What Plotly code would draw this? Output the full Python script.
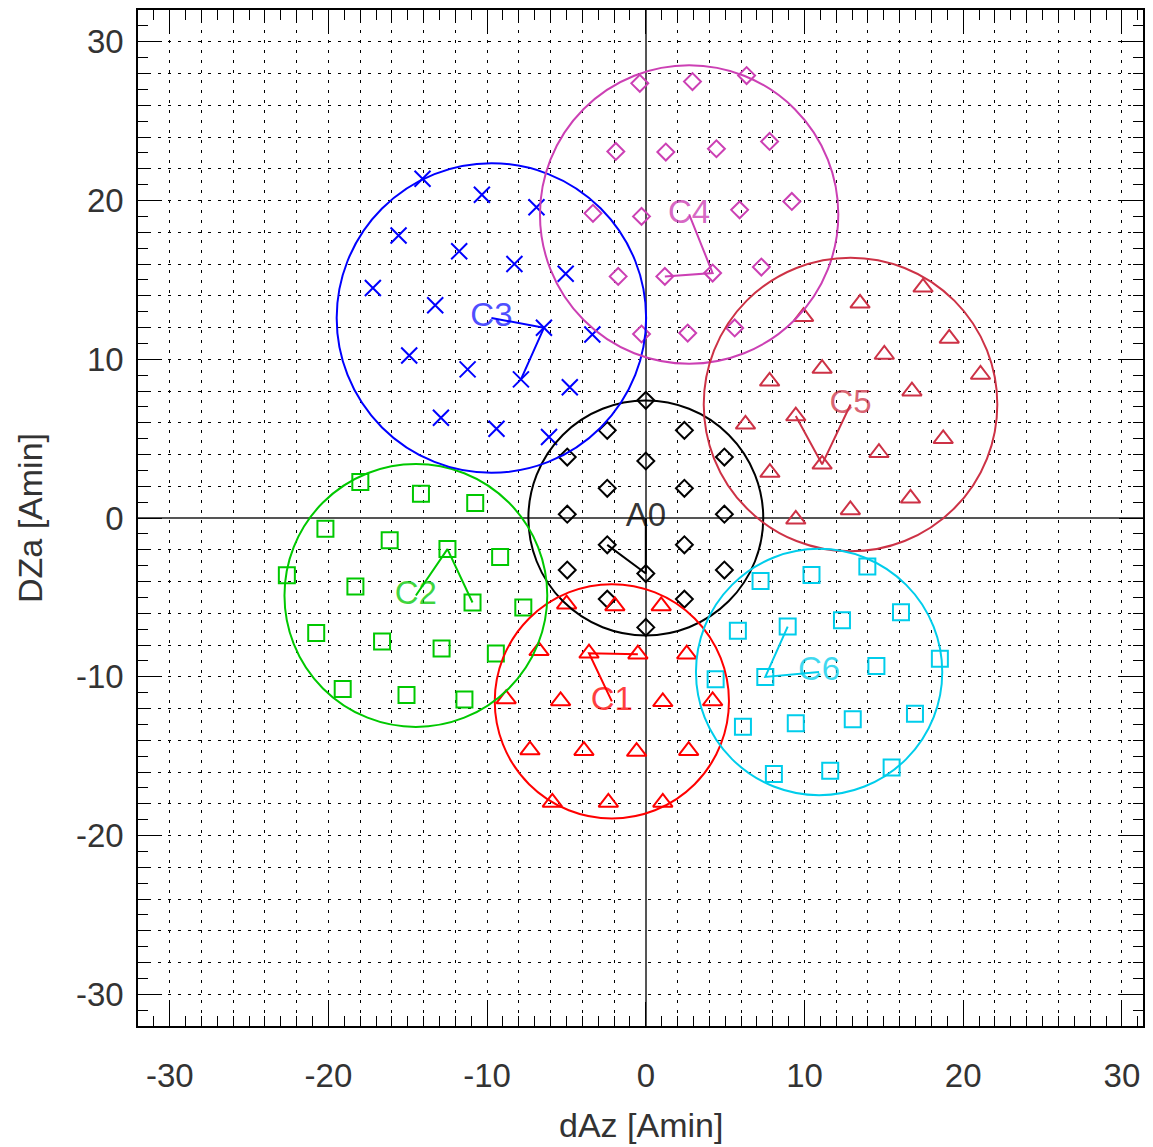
import plotly.graph_objects as go

# ---------------- data ----------------
A0_X = [0.0, -2.43, 2.43, -4.95, 0.0, 4.95, -2.43, 2.43, -4.95, 4.95, -2.43, 2.43, -4.95, 0.0, 4.95, -2.43, 2.43, 0.0]
A0_Y = [7.41, 5.52, 5.52, 3.84, 3.59, 3.84, 1.87, 1.87, 0.24, 0.24, -1.69, -1.69, -3.28, -3.50, -3.28, -5.11, -5.11, -6.89]

C1_X = [-4.99, -1.95, 0.97, -6.73, -3.58, -0.50, 2.58, -8.80, -5.37, 1.07, 4.21, -7.30, -3.90, -0.58, 2.70, -5.89, -2.36, 1.07]
C1_Y = [-5.43, -5.54, -5.54, -8.37, -8.52, -8.58, -8.58, -11.40, -11.52, -11.58, -11.52, -14.62, -14.66, -14.71, -14.66, -17.92, -17.92, -17.92]

C2_X = [-17.99, -14.17, -10.75, -20.19, -16.14, -12.50, -9.18, -22.62, -18.30, -10.92, -7.72, -20.77, -16.62, -12.87, -9.45, -19.10, -15.08, -11.43]
C2_Y = [2.27, 1.53, 0.95, -0.67, -1.40, -1.96, -2.45, -3.60, -4.32, -5.32, -5.64, -7.25, -7.78, -8.22, -8.53, -10.77, -11.15, -11.44]

C3_X = [-14.07, -10.33, -6.89, -15.58, -11.76, -8.28, -5.05, -17.20, -13.27, -6.42, -3.37, -14.91, -11.23, -7.87, -4.79, -12.91, -9.41, -6.10]
C3_Y = [21.37, 20.36, 19.58, 17.80, 16.80, 16.00, 15.39, 14.49, 13.40, 11.98, 11.56, 10.24, 9.36, 8.73, 8.24, 6.32, 5.62, 5.10]

C4_X = [-0.38, 2.94, 6.35, -1.89, 1.26, 4.45, 7.80, -3.33, -0.27, 5.91, 9.20, -1.74, 1.20, 4.21, 7.28, -0.27, 2.64, 5.60]
C4_Y = [27.38, 27.49, 27.87, 23.09, 23.05, 23.26, 23.72, 19.19, 19.00, 19.41, 19.94, 15.22, 15.22, 15.43, 15.81, 11.59, 11.65, 11.97]

C5_X = [17.47, 13.50, 9.94, 19.12, 15.03, 11.11, 7.80, 21.09, 16.77, 9.45, 6.28, 18.74, 14.69, 11.11, 7.82, 16.68, 12.89, 9.45]
C5_Y = [14.53, 13.52, 12.68, 11.31, 10.30, 9.41, 8.61, 9.04, 7.99, 6.42, 5.90, 4.99, 4.11, 3.38, 2.86, 1.24, 0.51, -0.08]

C6_X = [7.23, 10.44, 13.96, 5.80, 8.94, 12.36, 16.08, 4.40, 7.53, 14.53, 18.53, 6.12, 9.45, 13.04, 16.96, 8.07, 11.62, 15.49]
C6_Y = [-3.97, -3.59, -3.06, -7.11, -6.84, -6.44, -5.94, -10.15, -10.01, -9.33, -8.87, -13.15, -12.93, -12.68, -12.33, -16.13, -15.92, -15.71]

LABELS   = ["A0", "C1", "C2", "C3", "C4", "C5", "C6"]
CENTER_X = [0.0, -2.14, -14.49, -9.73, 2.73, 12.90, 10.92]
CENTER_Y = [0.0, -11.55, -4.88, 12.60, 19.12, 7.15, -9.70]
RADIUS   = [7.40, 7.38, 8.28, 9.75, 9.40, 9.25, 7.76]
# indices of the two points joined to each centre: centre -> first -> second
LINK_FIRST  = [13, 4, 5, 9, 13, 13, 8]
LINK_SECOND = [10, 5, 9, 13, 12, 9, 4]

TICK_VALUES = [-30, -20, -10, 0, 10, 20, 30]
TICK_LABELS = ["-30", "-20", "-10", "0", "10", "20", "30"]
X_TITLE = "dAz [Amin]"
Y_TITLE = "DZa [Amin]"

# ---------------- styles ----------------
POINTS_X = [A0_X, C1_X, C2_X, C3_X, C4_X, C5_X, C6_X]
POINTS_Y = [A0_Y, C1_Y, C2_Y, C3_Y, C4_Y, C5_Y, C6_Y]
COLORS = ["#000000", "#FF0000", "#00C800", "#0000FF", "#CC40B4", "#CD3246", "#00CDEB"]
TEXT_COLORS = ["rgba(0,0,0,0.8)", "rgba(255,0,0,0.75)", "rgba(0,200,0,0.75)",
               "rgba(0,0,255,0.7)", "rgba(204,64,180,0.8)", "rgba(205,50,70,0.75)",
               "rgba(0,205,235,0.75)"]
SYMBOLS = ["diamond-open", "triangle-up-open", "square-open", "x-thin-open",
           "diamond-open", "triangle-up-open", "square-open"]
SIZES = [13, 17, 16, 16, 13, 17, 16]

FONT = "Liberation Sans, Arial, Helvetica, sans-serif"

fig = go.Figure()
shapes = []
for i, name in enumerate(LABELS):
    col = COLORS[i]
    cx, cy, r = CENTER_X[i], CENTER_Y[i], RADIUS[i]
    shapes.append(dict(type="circle", xref="x", yref="y",
                       x0=cx - r, x1=cx + r, y0=cy - r, y1=cy + r,
                       line=dict(color=col, width=2), layer="above"))
    px, py = POINTS_X[i], POINTS_Y[i]
    fig.add_trace(go.Scatter(
        x=px, y=py, mode="markers", showlegend=False, hoverinfo="skip",
        marker=dict(symbol=SYMBOLS[i], size=SIZES[i], color=col,
                    line=dict(color=col, width=2))))
    a, b = LINK_FIRST[i], LINK_SECOND[i]
    fig.add_trace(go.Scatter(
        x=[cx, px[a], px[b]], y=[cy, py[a], py[b]], mode="lines",
        showlegend=False, hoverinfo="skip", line=dict(color=col, width=2)))
    fig.add_trace(go.Scatter(
        x=[cx], y=[cy], mode="text", text=[name], textposition="middle center",
        showlegend=False, hoverinfo="skip",
        textfont=dict(family=FONT, size=33, color=TEXT_COLORS[i])))

# invisible trace to carry the overlay grid axes
fig.add_trace(go.Scatter(x=[0], y=[0], xaxis="x2", yaxis="y2", mode="markers",
                         marker=dict(opacity=0), showlegend=False, hoverinfo="skip"))

XR = [-32, 31.33]
YR = [-32, 32]
axis_common = dict(
    tickmode="array", tickvals=TICK_VALUES, ticktext=TICK_LABELS,
    ticks="inside", ticklen=24, tickwidth=1, tickcolor="black",
    showline=True, linecolor="black", linewidth=1.5, mirror="allticks",
    showgrid=False, zeroline=True, zerolinecolor="#555555", zerolinewidth=1.5,
    tickfont=dict(family=FONT, size=33, color="#333333"),
    minor=dict(tickmode="linear", tick0=0, dtick=1, ticks="inside", ticklen=10,
               tickwidth=1, tickcolor="black", showgrid=False),
)
grid_common = dict(
    tickmode="linear", tick0=0, dtick=2, ticks="", showticklabels=False,
    showline=False, zeroline=False, showgrid=True, gridcolor="black",
    gridwidth=1, griddash="3px,7px",
)

fig.update_layout(
    width=1137, height=1139,
    margin=dict(l=130, r=0, t=1, b=121),
    paper_bgcolor="white", plot_bgcolor="white",
    xaxis=dict(range=XR, ticklabelstandoff=20, **axis_common),
    yaxis=dict(range=YR, ticklabelstandoff=6, **axis_common),
    xaxis2=dict(range=XR, overlaying="x", anchor="y2", **grid_common),
    yaxis2=dict(range=YR, overlaying="y", anchor="x2", **grid_common),
    shapes=shapes,
    annotations=[
        dict(text=X_TITLE, xref="paper", yref="paper", x=0.5, y=0,
             xanchor="center", yanchor="middle", yshift=-99, showarrow=False,
             font=dict(family=FONT, size=34, color="#333333")),
        dict(text=Y_TITLE, xref="paper", yref="paper", x=0, y=0.5,
             xanchor="center", yanchor="middle", xshift=-108, textangle=-90,
             showarrow=False, font=dict(family=FONT, size=34, color="#333333")),
    ],
)

fig.write_html("out.html")
